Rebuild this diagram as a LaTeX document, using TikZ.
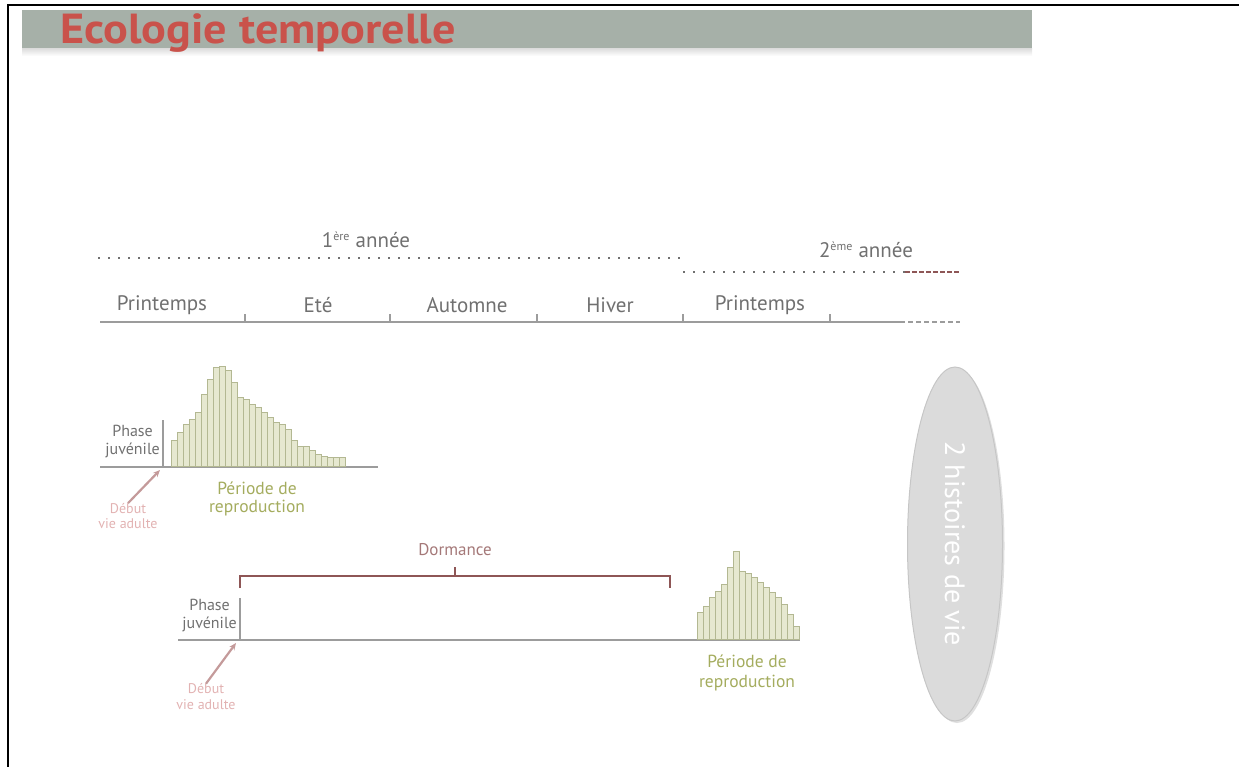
\documentclass[tikz,border=0pt]{standalone}
\usepackage{fontspec}
\setmainfont{PT Sans}
\usetikzlibrary{positioning, arrows.meta, calc, shapes.geometric, shadows}

\definecolor{titlered}{HTML}{C9524B}
\definecolor{headgray}{HTML}{A6B0A8}
\definecolor{txtgray}{HTML}{707070}
\definecolor{linegray}{HTML}{9C9C9C}
\definecolor{barfill}{HTML}{E6E8D0}
\definecolor{baredge}{HTML}{B3B892}
\definecolor{olivetxt}{HTML}{A4AC5E}
\definecolor{pinktxt}{HTML}{E2B2B2}
\definecolor{arrowpink}{HTML}{C49A9A}
\definecolor{dormred}{HTML}{8E5656}

\newcommand{\supx}[1]{\textsuperscript{\fontsize{12}{12}\selectfont #1}}

\begin{document}
\begin{tikzpicture}[x=1pt, y=-1pt,
  every node/.style = {font=\fontsize{21}{24}\selectfont, inner sep=0pt},
  season/.style = {text=txtgray},
  small/.style  = {font=\fontsize{16}{18}\selectfont, align=center},
  axis/.style   = {draw=linegray, line width=1.6pt},
  dots/.style   = {draw=txtgray, line width=1.5pt, dash pattern=on 1.5pt off 8.5pt},
  bar/.style    = {fill=barfill, draw=baredge, line width=0.6pt},
  arr/.style    = {-{Stealth[length=7pt, width=6pt]}, draw=arrowpink, line width=2.2pt},
  brace/.style  = {draw=dormred, line width=1.6pt}
]
\useasboundingbox (0,0) rectangle (1239,767);

% cadre et bandeau
\draw[black, line width=2pt] (8,767) -- (8,5) -- (1239,5);
\fill[headgray] (22,10) rectangle (1032,49);
\shade[top color=gray!25, bottom color=white] (22,49) rectangle (1032,56);
\node[anchor=base west, text=titlered, xscale=1.1, font=\fontsize{42}{44}\selectfont\bfseries]
  (title) at (60,44) {Ecologie temporelle};

% annees
\node[season] (an1) at (366,240) {1\supx{ère} année};
\node[season] (an2) at (866,250) {2\supx{ème} année};
\draw[dots] (98,258) -- (680,258);
\draw[dots] (683,272) -- (905,272);
\draw[dormred, line width=1.5pt, dash pattern=on 5pt off 2pt] (905,272) -- (960,272);

% saisons
\node[season] (pr1) at (162,305) {Printemps};
\node[season] (ete) at (318,305) {Eté};
\node[season] (aut) at (467,305) {Automne};
\node[season] (hiv) at (610,305) {Hiver};
\node[season] (pr2) at (760,305) {Printemps};
\draw[axis] (100,322) -- (900,322);
\draw[draw=linegray, line width=1.2pt, dash pattern=on 5pt off 3pt] (900,322) -- (960,322);
\foreach \x in {245,390,537,683,830}
  \draw[draw=linegray, line width=1.2pt] (\x,322) -- (\x,314);

% premiere histoire de vie
\draw[axis] (100,467) -- (378,467);
\draw[axis] (163,420) -- (163,467);
\foreach \h [count=\i] in {26,34,42,47,54,72,87,99,100,96,84,69,67,62,59,54,49,44,42,37,26,20,20,16,12,10,9,9,9}
  \draw[bar] ({171+(\i-1)*6},466) rectangle ++(6,-\h);
\node[small, text=txtgray, anchor=east] (juv1) at (160,442) {Phase\\juvénile};
\node[small, text=olivetxt, font=\fontsize{17.5}{18}\selectfont] (rep1) at (257,499) {Période de\\reproduction};
\node[small, text=pinktxt, font=\fontsize{14}{15}\selectfont] (deb1) at (128,516) {Début\\vie adulte};
\coordinate (adulte1) at (160,470);
\draw[arr] (deb1.north) -- (adulte1);

% seconde histoire de vie
\draw[axis] (178,640) -- (800,640);
\draw[axis] (240,598) -- (240,640);
\foreach \h [count=\i] in {27,33,42,48,55,72,88,68,66,62,57,52,47,42,35,25,13}
  \draw[bar] ({697+(\i-1)*6},639) rectangle ++(6,-\h);
\node[small, text=txtgray, anchor=east] (juv2) at (237,616) {Phase\\juvénile};
\node[small, text=olivetxt, font=\fontsize{17.5}{20}\selectfont] (rep2) at (747,673) {Période de\\reproduction};
\node[small, text=pinktxt, font=\fontsize{14}{16}\selectfont] (deb2) at (206,697) {Début\\vie adulte};
\coordinate (adulte2) at (236,643);
\draw[arr] (deb2.north) -- (adulte2);

% dormance
\draw[brace] (240,588) -- (240,576) -- (670,576) -- (670,588);
\draw[brace] (455,576) -- (455,567);
\node[small, text=dormred!80, font=\fontsize{17}{18}\selectfont] (dorm) at (455,550) {Dormance};

% bilan
\node[ellipse, minimum width=95pt, minimum height=354pt, fill=gray!28,
      draw=gray!45, line width=1pt,
      drop shadow={shadow xshift=2pt, shadow yshift=-2pt, opacity=0.25}]
  (bilan) at (955,544) {};
\node[rotate=-90, text=white, font=\fontsize{28}{30}\selectfont]
  (bilantxt) at (bilan.center) {2 histoires de vie};

\end{tikzpicture}
\end{document}
